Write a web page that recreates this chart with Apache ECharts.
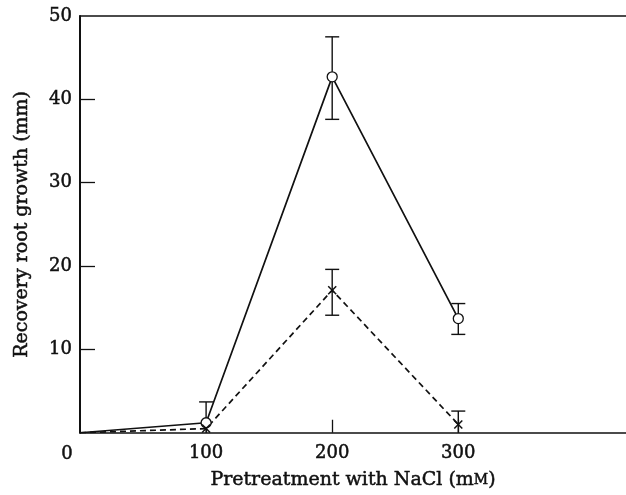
<!DOCTYPE html>
<html><head><meta charset="utf-8">
<script src="https://cdn.jsdelivr.net/npm/echarts@6/dist/echarts.min.js"></script>
<style>html,body{margin:0;padding:0;background:#fff}#c{width:626px;height:495px}</style>
</head><body><div id="c"></div>
<script>
// Data
const nacl = [0, 100, 200, 300];
const solidMean = [0, 1.2, 42.7, 13.7];
const solidUpper = [null, 3.7, 47.5, 15.5];
const solidLower = [null, -1.3, 37.6, 11.8];
const dashedMean = [0, 0.5, 17.1, 1.0];
const dashedUpper = [null, null, 19.6, 2.6];
const dashedLower = [null, null, 14.1, -0.6];
const xTickValues = [100, 200, 300];
const yTickValues = [10, 20, 30, 40];
const yLabelValues = [10, 20, 30, 40, 50];

const INK = '#111';
const FONT = 'DejaVu Serif';
const heavy = { textBorderColor: INK, textBorderWidth: 0.5 };

function pairs(xs, ys) { return xs.map((x, i) => ({ value: [x, ys[i]], symbol: x === 0 ? 'none' : undefined })); }
function errData(xs, lo, hi) {
  const out = [];
  xs.forEach((x, i) => { if (hi[i] != null) out.push([x, lo[i], hi[i]]); });
  return out;
}
function errRender(params, api) {
  const x = api.value(0), lo = api.value(1), hi = api.value(2);
  const pHi = api.coord([x, hi]);
  const pLo = api.coord([x, Math.max(lo, 0)]);
  const cw = 7;
  const st = { stroke: INK, lineWidth: 1.4 };
  const ch = [
    { type: 'line', shape: { x1: pHi[0], y1: pHi[1], x2: pLo[0], y2: pLo[1] }, style: st },
    { type: 'line', shape: { x1: pHi[0] - cw, y1: pHi[1], x2: pHi[0] + cw, y2: pHi[1] }, style: st }
  ];
  if (lo > 0) ch.push({ type: 'line', shape: { x1: pLo[0] - cw, y1: pLo[1], x2: pLo[0] + cw, y2: pLo[1] }, style: st });
  return { type: 'group', children: ch };
}
function crossRender(params, api) {
  const p = api.coord([api.value(0), api.value(1)]);
  const s = 4;
  const st = { stroke: INK, lineWidth: 1.5 };
  return { type: 'group', children: [
    { type: 'line', shape: { x1: p[0] - s, y1: p[1] - s, x2: p[0] + s, y2: p[1] + s }, style: st },
    { type: 'line', shape: { x1: p[0] - s, y1: p[1] + s, x2: p[0] + s, y2: p[1] - s }, style: st }
  ]};
}

const chart = echarts.init(document.getElementById('c'), null, { renderer: 'canvas' });
chart.setOption({
  backgroundColor: '#fff',
  animation: false,
  grid: { left: 80, top: 16, right: 0, bottom: 60, containLabel: false },
  xAxis: [{
    type: 'value', min: 0, max: 433, position: 'bottom',
    name: 'Pretreatment with NaCl (m{s|M})', nameLocation: 'middle', nameGap: 38,
    nameTextStyle: Object.assign({ fontFamily: FONT, fontSize: 19, color: INK,
      rich: { s: Object.assign({ fontFamily: FONT, fontSize: 14, color: INK }, heavy) } }, heavy),
    axisLine: { show: true, onZero: false, lineStyle: { color: INK, width: 1.5 } },
    axisTick: { show: true, inside: true, length: 13, customValues: xTickValues, lineStyle: { color: INK, width: 1.3 } },
    axisLabel: Object.assign({ show: true, customValues: xTickValues, margin: 12, fontFamily: FONT, fontSize: 18, color: INK }, heavy),
    splitLine: { show: false }
  }, {
    type: 'value', min: 0, max: 433, position: 'top',
    axisLine: { show: true, onZero: false, lineStyle: { color: INK, width: 1.5 } },
    axisTick: { show: false }, axisLabel: { show: false }, splitLine: { show: false }
  }],
  yAxis: {
    type: 'value', min: 0, max: 50, interval: 10,
    name: 'Recovery root growth (mm)', nameLocation: 'middle', nameGap: 48,
    nameTextStyle: Object.assign({ fontFamily: FONT, fontSize: 19, color: INK }, heavy),
    axisLine: { show: true, onZero: false, lineStyle: { color: INK, width: 2 } },
    axisTick: { show: true, inside: true, length: 15, customValues: yTickValues, lineStyle: { color: INK, width: 1.3 } },
    axisLabel: Object.assign({ show: true, customValues: yLabelValues, margin: 8, fontFamily: FONT, fontSize: 18, color: INK }, heavy),
    splitLine: { show: false }
  },
  graphic: [{
    type: 'text', left: 61, top: 445,
    style: Object.assign({ text: '0', font: '18px "DejaVu Serif"', fill: INK, stroke: INK, lineWidth: 0.5 })
  }],
  series: [
    {
      type: 'line', data: pairs(nacl, solidMean), z: 3,
      lineStyle: { color: INK, width: 1.7, type: 'solid' },
      symbol: 'circle', symbolSize: 10,
      itemStyle: { color: '#fff', borderColor: INK, borderWidth: 1.3 }
    },
    {
      type: 'line', data: pairs(nacl, dashedMean), z: 2, symbol: 'none',
      lineStyle: { color: INK, width: 1.7, type: [6, 4] }
    },
    { type: 'custom', renderItem: crossRender, data: nacl.map((x, i) => [x, dashedMean[i]]).filter(d => d[0] !== 0), z: 4 },
    { type: 'custom', renderItem: errRender, data: errData(nacl, solidLower, solidUpper), z: 2 },
    { type: 'custom', renderItem: errRender, data: errData(nacl, dashedLower, dashedUpper), z: 2 }
  ]
});
</script></body></html>
